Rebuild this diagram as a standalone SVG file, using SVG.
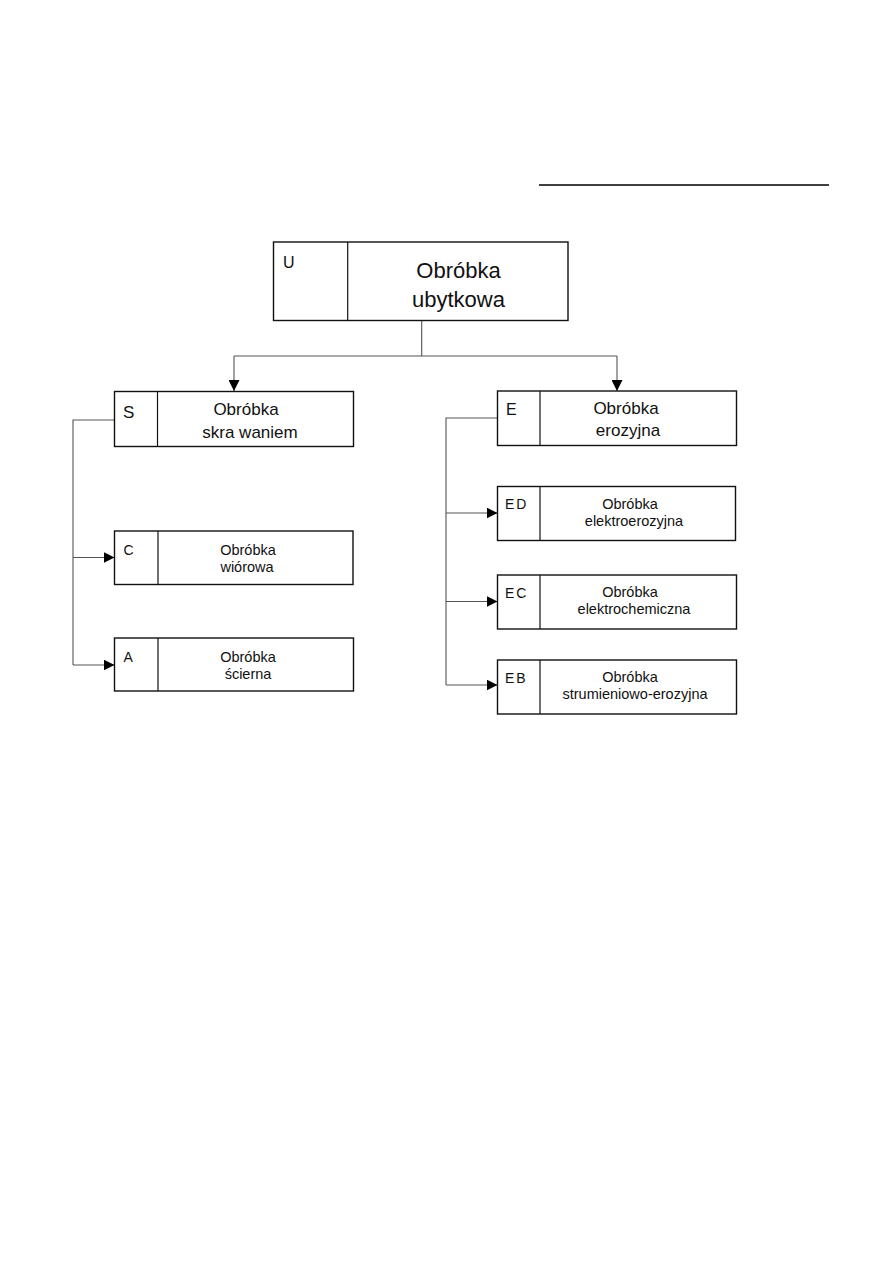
<svg xmlns="http://www.w3.org/2000/svg" width="893" height="1263" viewBox="0 0 893 1263">
<style>
.box{fill:#fff;stroke:#111;stroke-width:1.4}
.div{stroke:#111;stroke-width:1.2}
.con{fill:none;stroke:#555;stroke-width:1.1}
text{font-family:"Liberation Sans",Arial,sans-serif;fill:#111}
.big{font-size:22px;text-anchor:middle}
.mid{font-size:17px;text-anchor:middle}
.sm{font-size:14.5px;text-anchor:middle}
</style>
<defs>
<marker id="arr" markerUnits="userSpaceOnUse" markerWidth="12" markerHeight="11" refX="11" refY="5.5" orient="auto">
<path d="M0,0 L11,5.5 L0,11 Z" fill="#000"/>
</marker>
</defs>
<rect width="893" height="1263" fill="#fff"/>
<line x1="539" y1="185" x2="829" y2="185" stroke="#000" stroke-width="1.6"/>
<g id="connectors">
<path class="con" d="M421.7 320.7 V356 M234 356 H617"/>
<path class="con" d="M234 356 V391" marker-end="url(#arr)"/>
<path class="con" d="M617 356 V391" marker-end="url(#arr)"/>
<path class="con" d="M114.5 420 H73 V665"/>
<path class="con" d="M73 557.5 H114.5" marker-end="url(#arr)"/>
<path class="con" d="M73 665 H114.5" marker-end="url(#arr)"/>
<path class="con" d="M497.5 418 H446 V685"/>
<path class="con" d="M446 513 H497.5" marker-end="url(#arr)"/>
<path class="con" d="M446 601.5 H497.5" marker-end="url(#arr)"/>
<path class="con" d="M446 685 H497.5" marker-end="url(#arr)"/>
</g>
<g id="node-U">
<rect class="box" x="273.5" y="242" width="294.5" height="78.5"/>
<line class="div" x1="347.7" y1="242" x2="347.7" y2="320.5"/>
<text x="283" y="268" font-size="16">U</text>
<text class="big" x="458.5" y="278">Obróbka</text>
<text class="big" x="458.5" y="307">ubytkowa</text>
</g>
<g id="node-S">
<rect class="box" x="114.5" y="391.5" width="239" height="55"/>
<line class="div" x1="157.5" y1="391.5" x2="157.5" y2="446.5"/>
<text x="123" y="418" font-size="17">S</text>
<text class="mid" x="246" y="415">Obróbka</text>
<text class="mid" x="250" y="437.5">skra waniem</text>
</g>
<g id="node-E">
<rect class="box" x="497.5" y="391" width="239" height="54.5"/>
<line class="div" x1="540" y1="391" x2="540" y2="445.5"/>
<text x="506" y="414.5" font-size="16">E</text>
<text class="mid" x="626" y="414">Obróbka</text>
<text class="mid" x="628" y="436">erozyjna</text>
</g>
<g id="node-C">
<rect class="box" x="114.5" y="531" width="238.5" height="53.5"/>
<line class="div" x1="158" y1="531" x2="158" y2="584.5"/>
<text x="123.5" y="555" font-size="14">C</text>
<text class="sm" x="248" y="555">Obróbka</text>
<text class="sm" x="247" y="572">wiórowa</text>
</g>
<g id="node-A">
<rect class="box" x="114.5" y="638" width="239" height="53"/>
<line class="div" x1="158" y1="638" x2="158" y2="691"/>
<text x="123.5" y="662" font-size="14">A</text>
<text class="sm" x="248" y="662">Obróbka</text>
<text class="sm" x="248" y="679">ścierna</text>
</g>
<g id="node-ED">
<rect class="box" x="497.5" y="486.5" width="238" height="54"/>
<line class="div" x1="540" y1="486.5" x2="540" y2="540.5"/>
<text x="505" y="509" font-size="14" letter-spacing="2">ED</text>
<text class="sm" x="630" y="508.5">Obróbka</text>
<text class="sm" x="634" y="525.5">elektroerozyjna</text>
</g>
<g id="node-EC">
<rect class="box" x="497.5" y="575" width="239" height="54"/>
<line class="div" x1="540" y1="575" x2="540" y2="629"/>
<text x="505" y="598" font-size="14" letter-spacing="2">EC</text>
<text class="sm" x="630" y="597">Obróbka</text>
<text class="sm" x="634" y="614">elektrochemiczna</text>
</g>
<g id="node-EB">
<rect class="box" x="497.5" y="660" width="239" height="54"/>
<line class="div" x1="540" y1="660" x2="540" y2="714"/>
<text x="505" y="683" font-size="14" letter-spacing="2">EB</text>
<text class="sm" x="630" y="681.5">Obróbka</text>
<text class="sm" x="635" y="698.5" font-size="15.3px">strumieniowo-erozyjna</text>
</g>
</svg>
